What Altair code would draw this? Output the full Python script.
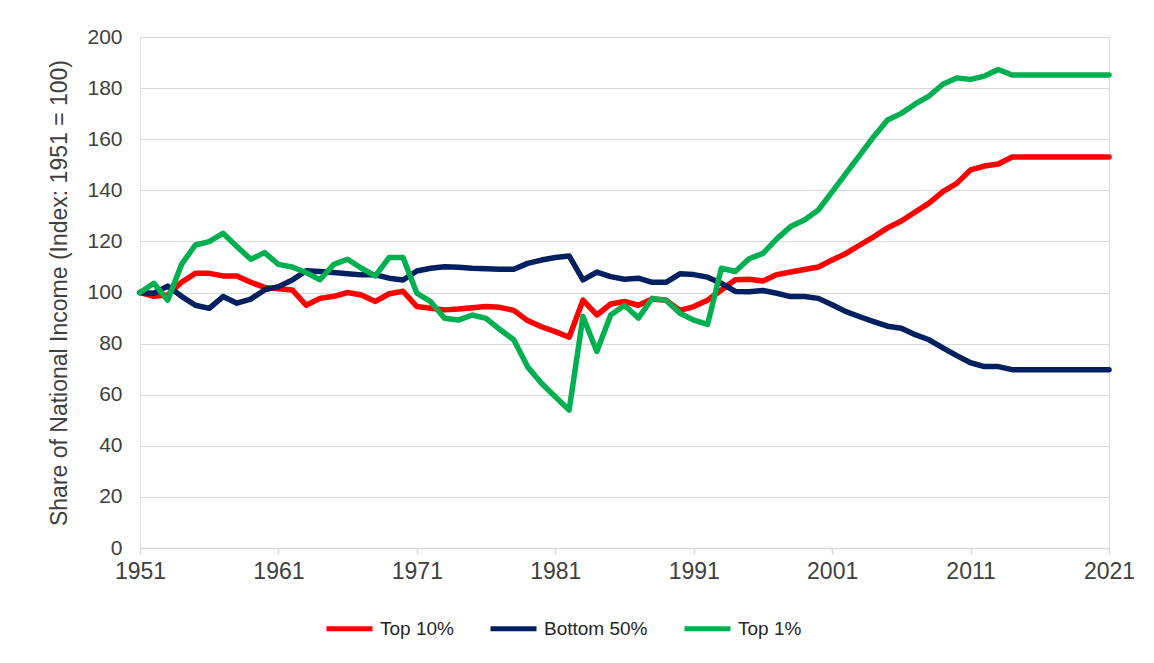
import altair as alt
import pandas as pd

years = list(range(1951, 2022))

top10 = [100, 98.5, 99, 104, 107.5, 107.5, 106.5, 106.5, 104, 102,
         101.5, 101, 95, 97.7, 98.5, 100, 99, 96.5, 99.5, 100.5,
         94.5, 93.8, 93.2, 93.5, 94, 94.5, 94.2, 93, 89, 86.6,
         84.7, 82.5, 97, 91.2, 95.5, 96.5, 95, 97.5, 97, 93,
         94.5, 97, 101, 105, 105.2, 104.5, 107, 108, 109, 110,
         112.7, 115.3, 118.6, 121.8, 125.3, 128, 131.5, 135, 139.5, 142.7,
         148, 149.5, 150.3, 153, 153, 153, 153, 153, 153, 153, 153]

bottom50 = [100, 99.7, 102.5, 98.5, 95, 93.8, 98.4, 95.8, 97.4, 101,
            102.3, 104.9, 108.5, 108.2, 107.8, 107.3, 106.9, 106.9, 105.6, 104.9,
            108.4, 109.5, 110.1, 109.9, 109.5, 109.3, 109.1, 109.1, 111.4, 112.7,
            113.7, 114.3, 104.9, 108, 106.2, 105.2, 105.6, 104, 104, 107.3,
            107, 106, 103.6, 100.4, 100.3, 100.8, 99.7, 98.4, 98.4, 97.7,
            95.2, 92.5, 90.5, 88.6, 86.8, 86, 83.5, 81.5, 78.3, 75.3,
            72.5, 71, 71, 69.8, 69.8, 69.8, 69.8, 69.8, 69.8, 69.8, 69.8]

top1 = [100, 103.6, 97, 111, 118.6, 119.9, 123.2, 118, 113, 115.6,
        111, 110, 107.8, 105, 111, 113, 109.5, 106.5, 113.7, 113.7,
        99.7, 96.4, 89.9, 89.2, 91.2, 89.9, 85.5, 81.5, 70.9, 64.5,
        59.2, 54, 90.6, 76.9, 91.2, 95, 90, 97.7, 97, 91.9,
        89.2, 87.5, 109.5, 108.2, 113.2, 115.3, 121, 125.8, 128.4, 132.3,
        139.4, 146.6, 153.8, 161, 167.5, 170.1, 173.8, 176.9, 181.5, 184,
        183.4, 184.7, 187.3, 185.1, 185.1, 185.1, 185.1, 185.1, 185.1, 185.1, 185.1]

series_names = ["Top 10%", "Bottom 50%", "Top 1%"]
series_colors = ["#FF0000", "#002060", "#00B050"]
x_ticks = [1951, 1961, 1971, 1981, 1991, 2001, 2011, 2021]
y_ticks = [0, 20, 40, 60, 80, 100, 120, 140, 160, 180, 200]

rows = []
for name, vals in zip(series_names, [top10, bottom50, top1]):
    for i, (yr, v) in enumerate(zip(years, vals)):
        rows.append({"year": yr, "value": v, "series": name, "order": i})
df = pd.DataFrame(rows)

FONT = "Liberation Sans"

chart = alt.Chart(df).mark_line(
    strokeWidth=5.5, strokeJoin="round", strokeCap="round"
).encode(
    x=alt.X("year:Q",
            scale=alt.Scale(domain=[1951, 2021], nice=False, zero=False),
            axis=alt.Axis(values=x_ticks, format="d", title=None, grid=False,
                          domainColor="#d9d9d9", domainWidth=1.5,
                          tickColor="#d9d9d9", tickSize=6, tickWidth=1.5,
                          labelFontSize=23, labelColor="#404040", labelFont=FONT,
                          labelPadding=6, labelFlush=False)),
    y=alt.Y("value:Q",
            scale=alt.Scale(domain=[0, 200], nice=False),
            axis=alt.Axis(values=y_ticks, title="Share of National Income (Index: 1951 = 100)",
                          domain=False, ticks=False, grid=True,
                          gridColor="#d9d9d9", gridWidth=1.2,
                          labelFontSize=21, labelColor="#404040", labelFont=FONT,
                          labelPadding=18,
                          titleFontSize=23, titleFont=FONT, titleColor="#404040",
                          titleFontWeight="normal", titlePadding=15)),
    color=alt.Color("series:N",
                    scale=alt.Scale(domain=series_names, range=series_colors),
                    legend=alt.Legend(title=None, orient="none", direction="horizontal",
                                      legendX=184, legendY=566,
                                      symbolType="stroke", symbolSize=2116,
                                      symbolStrokeWidth=5, labelFontSize=19,
                                      labelFont=FONT, labelColor="#262626",
                                      labelOffset=5, columnPadding=26)),
    order=alt.Order("order:Q"),
    detail="series:N",
).properties(
    width=969, height=511,
    autosize=alt.AutoSizeParams(type="none"),
    padding={"left": 132, "top": 29, "right": 37, "bottom": 107},
).configure_view(stroke=None).configure(background="white")

chart.save("out.html", embed_options={"renderer": "svg", "actions": False})
